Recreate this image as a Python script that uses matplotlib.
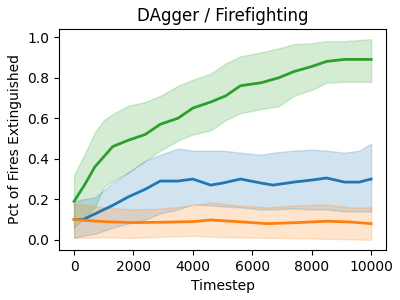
import matplotlib
matplotlib.use('Agg')
import matplotlib.pyplot as plt

# green run (top)
t_green = [0, 350, 700, 1000, 1300, 1800, 2400, 2900, 3500, 4000, 4600, 5100, 5600, 6300, 6900, 7400, 8000, 8500, 9100, 10000]
green_mean = [0.19, 0.27, 0.36, 0.41, 0.46, 0.49, 0.52, 0.57, 0.60, 0.65, 0.68, 0.71, 0.76, 0.775, 0.80, 0.83, 0.855, 0.88, 0.89, 0.89]
green_hi = [0.32, 0.42, 0.53, 0.59, 0.62, 0.66, 0.68, 0.71, 0.76, 0.79, 0.82, 0.87, 0.905, 0.925, 0.945, 0.965, 0.97, 0.98, 0.98, 0.99]
green_lo = [0.06, 0.11, 0.16, 0.26, 0.29, 0.33, 0.39, 0.44, 0.49, 0.52, 0.54, 0.59, 0.625, 0.645, 0.66, 0.71, 0.74, 0.775, 0.78, 0.78]

# blue run (middle)
t_blue = [0, 300, 700, 1300, 1800, 2400, 2900, 3500, 4000, 4600, 5000, 5600, 6300, 6700, 7400, 8000, 8500, 9100, 9600, 10000]
blue_mean = [0.10, 0.10, 0.128, 0.17, 0.21, 0.25, 0.29, 0.29, 0.30, 0.27, 0.28, 0.30, 0.28, 0.27, 0.285, 0.295, 0.305, 0.285, 0.285, 0.30]
blue_hi = [0.19, 0.20, 0.21, 0.28, 0.33, 0.39, 0.42, 0.45, 0.44, 0.44, 0.44, 0.43, 0.42, 0.43, 0.44, 0.445, 0.44, 0.43, 0.44, 0.475]
blue_lo = [0.01, 0.02, 0.03, 0.06, 0.08, 0.10, 0.13, 0.15, 0.175, 0.17, 0.165, 0.16, 0.15, 0.15, 0.155, 0.15, 0.15, 0.14, 0.14, 0.14]

# orange run (bottom)
t_orange = [0, 1000, 2000, 3000, 4000, 4600, 5500, 6500, 7500, 8500, 9300, 10000]
orange_mean = [0.10, 0.09, 0.085, 0.087, 0.09, 0.098, 0.09, 0.08, 0.085, 0.092, 0.088, 0.08]
orange_hi = [0.18, 0.16, 0.15, 0.155, 0.17, 0.185, 0.17, 0.16, 0.17, 0.175, 0.16, 0.16]
orange_lo = [0.01, 0.012, 0.01, 0.015, 0.02, 0.015, 0.012, 0.01, 0.008, 0.005, 0.003, 0.0]

fig, ax = plt.subplots(figsize=(4, 3), dpi=100)

ax.plot(t_green, green_mean, color='tab:green', lw=2)
ax.fill_between(t_green, green_lo, green_hi, color='tab:green', alpha=0.2)
ax.plot(t_blue, blue_mean, color='tab:blue', lw=2)
ax.fill_between(t_blue, blue_lo, blue_hi, color='tab:blue', alpha=0.2)
ax.plot(t_orange, orange_mean, color='tab:orange', lw=2)
ax.fill_between(t_orange, orange_lo, orange_hi, color='tab:orange', alpha=0.2)

ax.set_title('DAgger / Firefighting')
ax.set_xlabel('Timestep')
ax.set_ylabel('Pct of Fires Extinguished')

fig.subplots_adjust(left=0.148, right=0.965, top=0.903, bottom=0.167)
fig.savefig('out.png')
